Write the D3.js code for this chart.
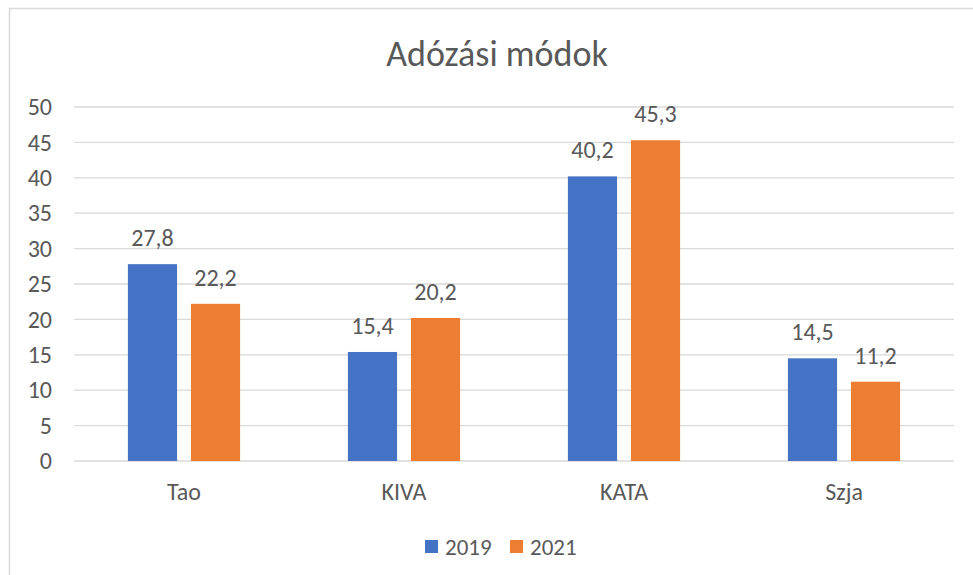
<!DOCTYPE html>
<html>
<head>
<meta charset="utf-8">
<script src="https://cdn.jsdelivr.net/npm/d3@7"></script>
<style>
  body { margin: 0; background: #fff; }
  svg text { font-family: Carlito, Calibri, "Open Sans", sans-serif; fill: #595959; }
</style>
</head>
<body>
<div id="chart"></div>
<script>
// ============================================================================
// DATA
// ============================================================================

const categories = ["Tao", "KIVA", "KATA", "Szja"];
const series     = ["2019", "2021"];
const values2019 = [27.8, 15.4, 40.2, 14.5];
const values2021 = [22.2, 20.2, 45.3, 11.2];
const yTicks     = [0, 5, 10, 15, 20, 25, 30, 35, 40, 45, 50];
const colors     = ["#4472C4", "#ED7D31"];

const rows = categories.map((c, i) => ({
    cat: c,
    vals: [
        { key: series[0], v: values2019[i] },
        { key: series[1], v: values2021[i] }
    ]
}));


// ============================================================================
// SETUP
// ============================================================================

const W = 973, H = 575;
const margin = { top: 107, right: 19, bottom: 114, left: 74 };
const width  = W - margin.left - margin.right;
const height = H - margin.top  - margin.bottom;

const svg = d3.select("#chart")
    .append("svg")
    .attr("width", W)
    .attr("height", H);

// chart frame (runs off the right and bottom edges)
svg.append("rect")
    .attr("x", 9.5).attr("y", 8.5)
    .attr("width", W + 10).attr("height", H + 10)
    .attr("fill", "none")
    .attr("stroke", "#d9d9d9")
    .attr("stroke-width", 1.5);

svg.append("text")
    .attr("x", 497)
    .attr("y", 66)
    .attr("text-anchor", "middle")
    .style("font-size", "36px")
    .style("font-weight", 300)
    .text("Adózási módok");

const g = svg.append("g")
    .attr("transform", `translate(${margin.left},${margin.top})`);

const x0 = d3.scaleBand()
    .domain(categories)
    .range([0, width])
    .padding(0);

const x1 = d3.scaleBand()
    .domain(series)
    .range([x0.bandwidth() * 0.245, x0.bandwidth() * 0.755])
    .paddingInner(0.22);

const y = d3.scaleLinear()
    .domain([0, 50])
    .range([height, 0]);

// gridlines
g.selectAll("line.grid")
    .data(yTicks)
    .join("line")
    .attr("class", "grid")
    .attr("x1", 0).attr("x2", width)
    .attr("y1", d => y(d)).attr("y2", d => y(d))
    .attr("stroke", "#d9d9d9")
    .attr("stroke-width", 1.3);

// y axis labels
const yAxisG = g.append("g")
    .call(d3.axisLeft(y).tickValues(yTicks).tickSize(0).tickPadding(22));
yAxisG.select(".domain").remove();
yAxisG.selectAll("text").style("font-size", "24px").attr("fill", "#595959");

// x axis labels
const xAxisG = g.append("g")
    .attr("transform", `translate(0,${height})`)
    .call(d3.axisBottom(x0).tickSize(0).tickPadding(22));
xAxisG.select(".domain").remove();
xAxisG.selectAll("text").style("font-size", "24px").attr("fill", "#595959");


// ============================================================================
// BARS
// ============================================================================

const groups = g.selectAll("g.group")
    .data(rows)
    .join("g")
    .attr("class", "group")
    .attr("transform", d => `translate(${x0(d.cat)},0)`);

groups.selectAll("rect")
    .data(d => d.vals)
    .join("rect")
    .attr("x", d => x1(d.key))
    .attr("width", x1.bandwidth())
    .attr("y", d => y(d.v))
    .attr("height", d => height - y(d.v))
    .attr("fill", (d, i) => colors[i]);

groups.selectAll("text.val")
    .data(d => d.vals)
    .join("text")
    .attr("class", "val")
    .attr("x", d => x1(d.key) + x1.bandwidth() / 2)
    .attr("y", d => y(d.v) - 18)
    .attr("text-anchor", "middle")
    .style("font-size", "24px")
    .text(d => d.v.toFixed(1).replace(".", ","));


// ============================================================================
// LEGEND
// ============================================================================

const legendX = [425, 510];
const legend = svg.selectAll("g.legend")
    .data(series)
    .join("g")
    .attr("class", "legend")
    .attr("transform", (d, i) => `translate(${legendX[i]},540)`);

legend.append("rect")
    .attr("width", 13).attr("height", 13)
    .attr("fill", (d, i) => colors[i]);

legend.append("text")
    .attr("x", 20)
    .attr("y", 15)
    .style("font-size", "23px")
    .text(d => d);
</script>
</body>
</html>
